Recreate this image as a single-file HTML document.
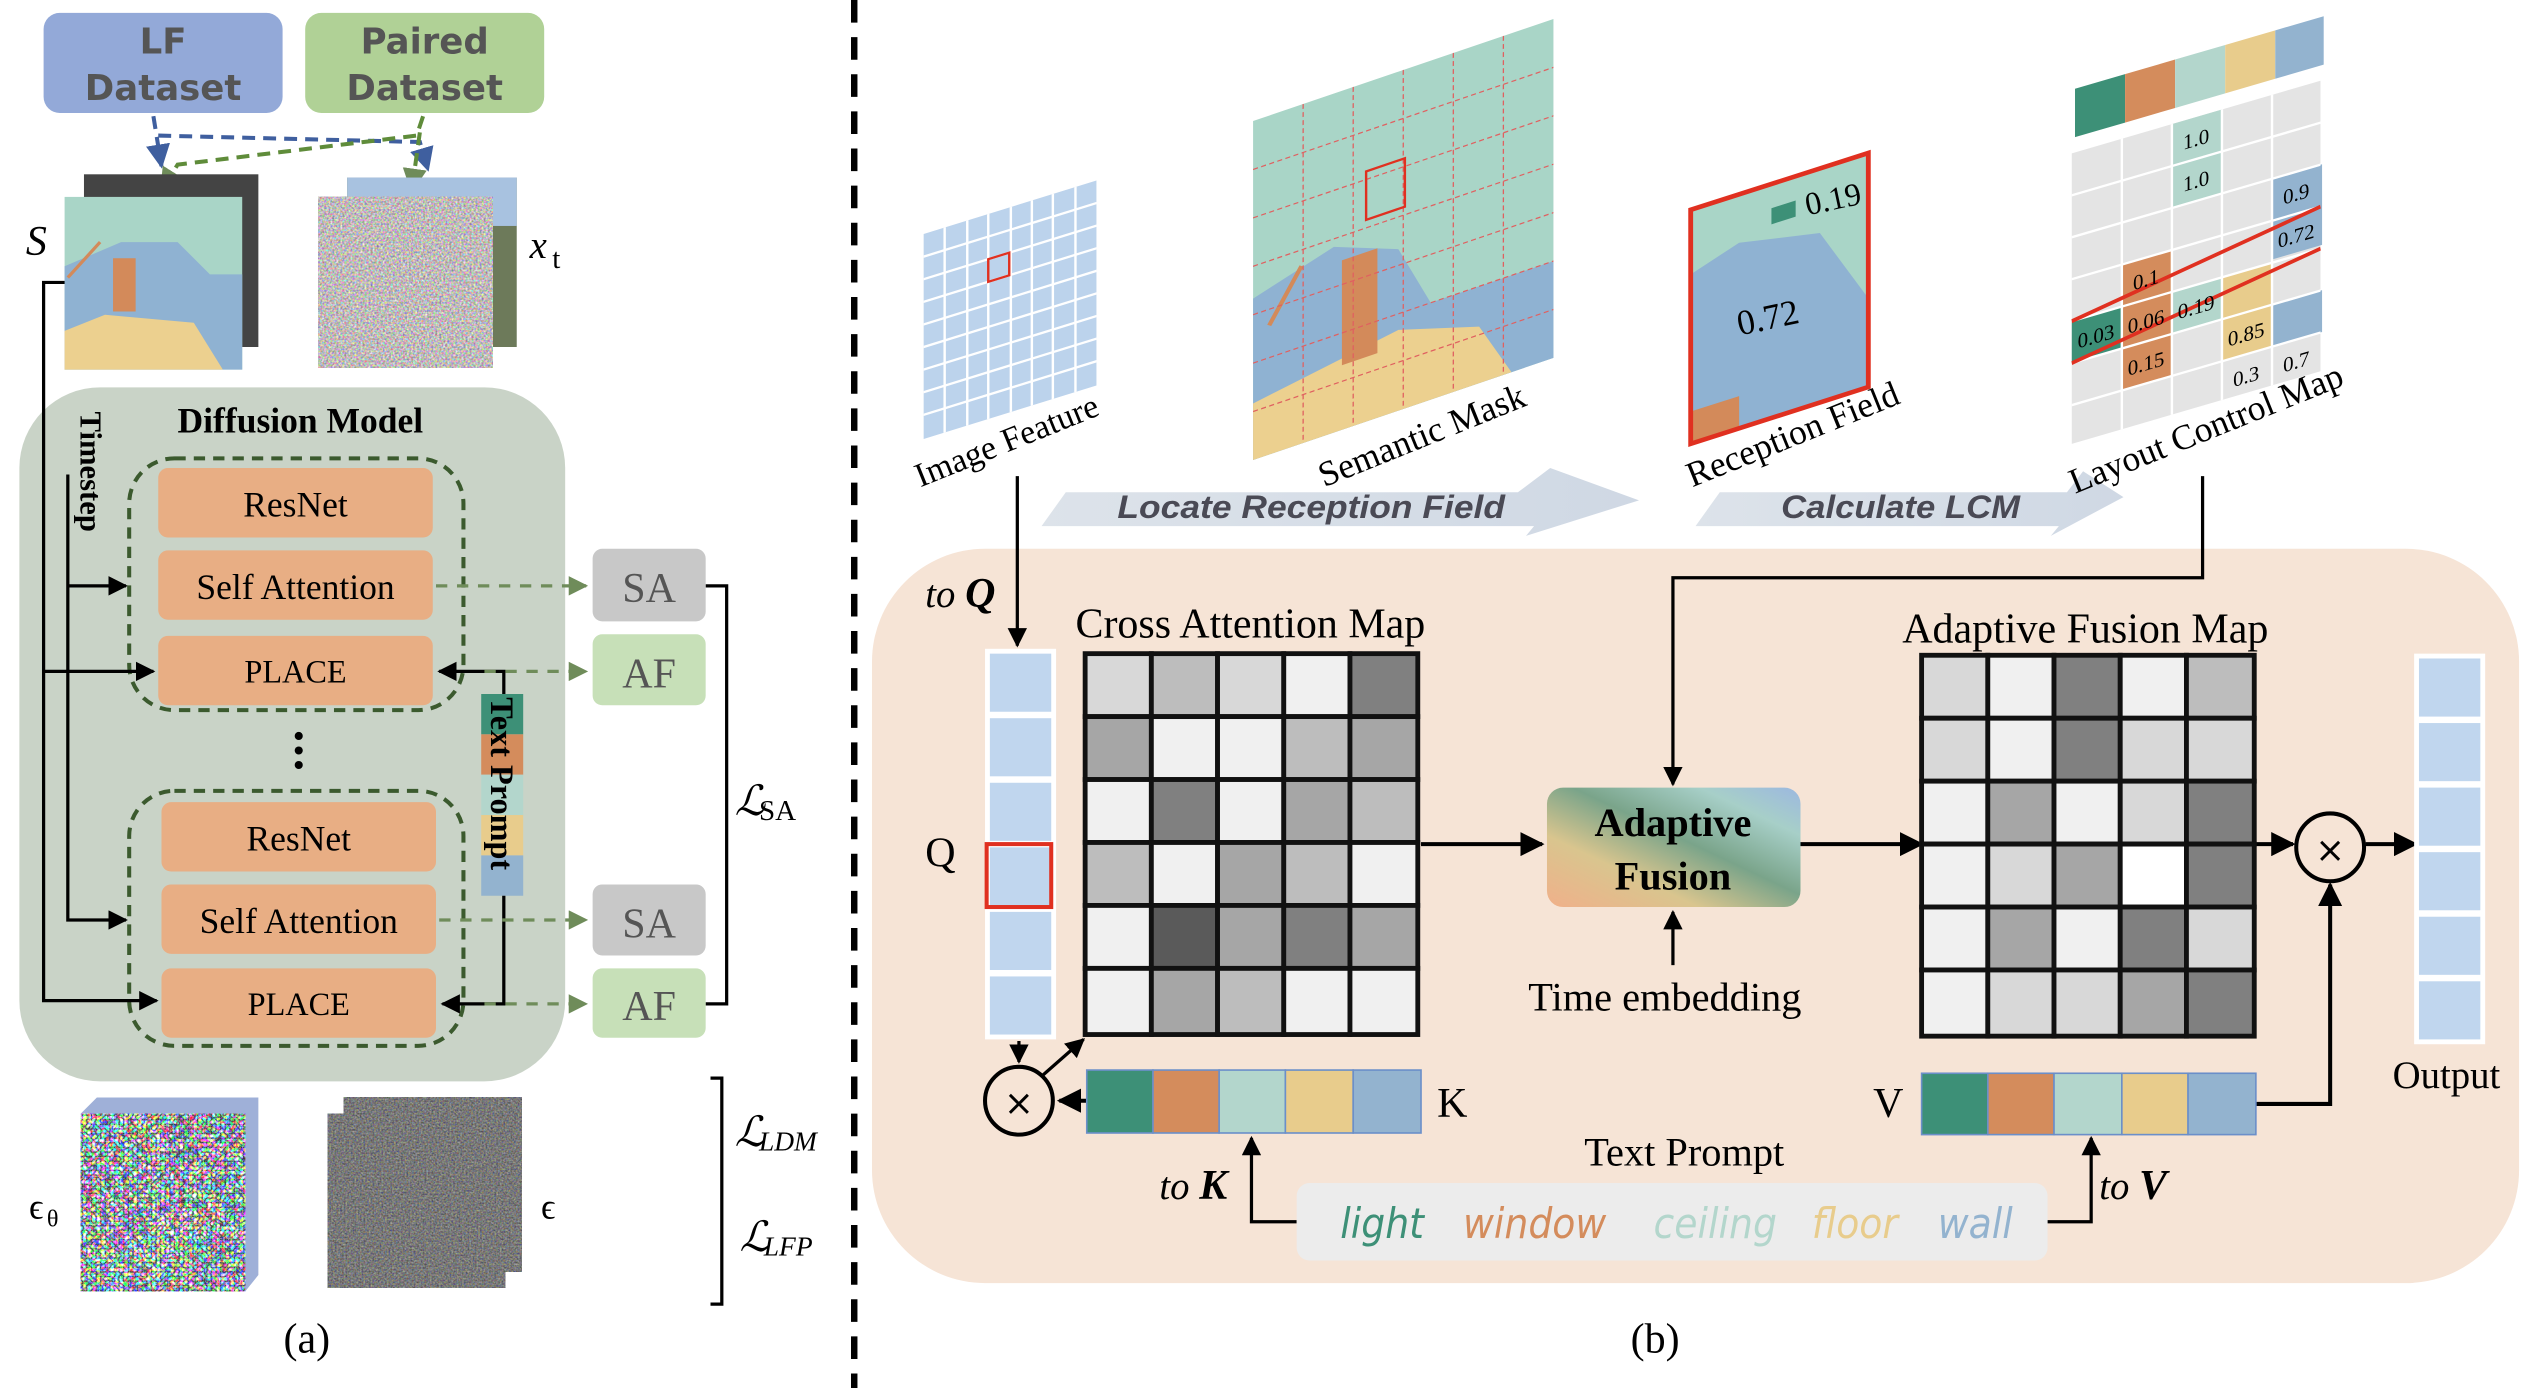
<!DOCTYPE html>
<html><head><meta charset="utf-8"><style>
html,body{margin:0;padding:0;background:#fff;}
svg{display:block;}
</style></head><body>
<svg width="2532" height="1388" viewBox="0 0 1568 860" preserveAspectRatio="none" xmlns="http://www.w3.org/2000/svg" font-family="Liberation Serif, serif">
<defs>
<marker id="ah" viewBox="0 0 10 10" refX="9" refY="5" markerWidth="6" markerHeight="6" orient="auto"><path d="M0,0 L10,5 L0,10 z" fill="#000"/></marker>
<marker id="ahg" viewBox="0 0 10 10" refX="9" refY="5" markerWidth="6" markerHeight="6" orient="auto"><path d="M0,0 L10,5 L0,10 z" fill="#6f8c5a"/></marker>
<marker id="ahb" viewBox="0 0 10 10" refX="9" refY="5" markerWidth="6" markerHeight="6" orient="auto"><path d="M0,0 L10,5 L0,10 z" fill="#3f5f9f"/></marker>
<filter id="noise" x="0" y="0" width="100%" height="100%" color-interpolation-filters="sRGB"><feTurbulence type="fractalNoise" baseFrequency="0.9" numOctaves="2" seed="3"/><feColorMatrix type="matrix" values="0.5 0.2 0 0 0.12  0.2 0.5 0 0 0.12  0 0.2 0.5 0 0.12  0 0 0 0 1"/></filter>
<filter id="noisec" x="0" y="0" width="100%" height="100%" color-interpolation-filters="sRGB"><feTurbulence type="turbulence" baseFrequency="0.35" numOctaves="2" seed="7"/><feColorMatrix type="matrix" values="2.2 0 0 0 0.05  0 2.2 0 0 0.08  0 0 2.2 0 0.1  0 0 0 0 1"/></filter>
<filter id="noisel" x="0" y="0" width="100%" height="100%" color-interpolation-filters="sRGB"><feTurbulence type="fractalNoise" baseFrequency="0.8" numOctaves="2" seed="5"/><feColorMatrix type="matrix" values="0.9 0 0 0 0.3  0 0.9 0 0 0.28  0 0 0.9 0 0.28  0 0 0 0 1"/></filter>
<linearGradient id="afg" x1="0" y1="1" x2="1" y2="0"><stop offset="0" stop-color="#f0b08a"/><stop offset="0.3" stop-color="#d9c58e"/><stop offset="0.55" stop-color="#7aa48a"/><stop offset="0.8" stop-color="#a7cfc8"/><stop offset="1" stop-color="#9cb8e0"/></linearGradient>
<linearGradient id="arr" x1="0" y1="0" x2="1" y2="0"><stop offset="0" stop-color="#dde3ea"/><stop offset="1" stop-color="#cfd8e4"/></linearGradient>
</defs>

<!-- ===== PART A ===== -->
<rect x="27" y="8" width="148" height="62" rx="10" fill="#93a9d8"/>
<text x="101" y="33" text-anchor="middle" font-family="DejaVu Sans, sans-serif" font-weight="bold" font-size="22" fill="#555">LF</text>
<text x="101" y="62" text-anchor="middle" font-family="DejaVu Sans, sans-serif" font-weight="bold" font-size="22" fill="#555">Dataset</text>
<rect x="189" y="8" width="148" height="62" rx="10" fill="#b0d196"/>
<text x="263" y="33" text-anchor="middle" font-family="DejaVu Sans, sans-serif" font-weight="bold" font-size="22" fill="#555">Paired</text>
<text x="263" y="62" text-anchor="middle" font-family="DejaVu Sans, sans-serif" font-weight="bold" font-size="22" fill="#555">Dataset</text>
<path d="M95,72 L100,103" stroke="#3f5f9f" stroke-width="2.5" stroke-dasharray="8,5" fill="none" marker-end="url(#ahb)"/>
<path d="M98,84 L260,88 L265,105" stroke="#3f5f9f" stroke-width="2.5" stroke-dasharray="8,5" fill="none" marker-end="url(#ahb)"/>
<path d="M262,72 L258,84 L110,102 L100,118" stroke="#5f8c3a" stroke-width="2.5" stroke-dasharray="8,5" fill="none" marker-end="url(#ahg)"/>
<path d="M260,82 L255,118" stroke="#5f8c3a" stroke-width="2.5" stroke-dasharray="8,5" fill="none" marker-end="url(#ahg)"/>
<rect x="52" y="108" width="108" height="107" fill="#444"/>
<rect x="40" y="122" width="110" height="107" fill="#a9d5c7"/>
<polygon points="40,165 75,150 110,150 130,170 150,170 150,229 40,229" fill="#8fb2d2"/>
<polygon points="40,205 65,195 120,200 138,229 40,229" fill="#ecd08f"/>
<rect x="70" y="160" width="14" height="33" fill="#d38a5a"/>
<line x1="42" y1="172" x2="62" y2="150" stroke="#d38a5a" stroke-width="2"/>
<text x="16" y="158" font-style="italic" font-size="26">S</text>
<rect x="215" y="110" width="105" height="105" fill="#6d7a5a"/>
<rect x="215" y="110" width="105" height="30" fill="#a8c2e0"/>
<rect x="197" y="122" width="108" height="106" fill="#aaa" filter="url(#noisel)"/>
<text x="328" y="160" font-style="italic" font-size="24">x</text><text x="342" y="166" font-size="18">t</text>
<rect x="12" y="240" width="338" height="430" rx="50" fill="#c9d3c7"/>
<text x="186" y="268" text-anchor="middle" font-weight="bold" font-size="22">Diffusion Model</text>
<text transform="translate(50,255) rotate(90)" font-weight="bold" font-size="19">Timestep</text>
<rect x="80" y="284" width="207" height="156" rx="28" fill="none" stroke="#3b5a2e" stroke-width="2.5" stroke-dasharray="7,5"/>
<rect x="80" y="490" width="207" height="158" rx="28" fill="none" stroke="#3b5a2e" stroke-width="2.5" stroke-dasharray="7,5"/>
<g fill="#e8ae84">
<rect x="98" y="290" width="170" height="43" rx="6"/><rect x="98" y="341" width="170" height="43" rx="6"/><rect x="98" y="394" width="170" height="43" rx="6"/>
<rect x="100" y="497" width="170" height="43" rx="6"/><rect x="100" y="548" width="170" height="43" rx="6"/><rect x="100" y="600" width="170" height="43" rx="6"/>
</g>
<g font-size="22" text-anchor="middle">
<text x="183" y="320">ResNet</text><text x="183" y="371">Self Attention</text><text x="183" y="423" font-size="20">PLACE</text>
<text x="185" y="527">ResNet</text><text x="185" y="578">Self Attention</text><text x="185" y="629" font-size="20">PLACE</text>
</g>
<circle cx="185" cy="456" r="2.5"/><circle cx="185" cy="465" r="2.5"/><circle cx="185" cy="474" r="2.5"/>
<rect x="298" y="430" width="26" height="25" fill="#3d9077"/><rect x="298" y="455" width="26" height="25" fill="#d48c5c"/><rect x="298" y="480" width="26" height="25" fill="#b3d6cc"/><rect x="298" y="505" width="26" height="25" fill="#e8cc8c"/><rect x="298" y="530" width="26" height="25" fill="#93b3cf"/>
<text transform="translate(304,432) rotate(90)" font-weight="bold" font-size="20">Text Prompt</text>
<g stroke="#000" stroke-width="2" fill="none">
<path d="M40,175 L27,175 L27,620 L97,620" marker-end="url(#ah)"/>
<path d="M27,416 L95,416" marker-end="url(#ah)"/>
<path d="M42,294 L42,570 L78,570" marker-end="url(#ah)"/>
<path d="M42,363 L78,363" marker-end="url(#ah)"/>
<path d="M312,430 L312,416 L272,416" marker-end="url(#ah)"/>
<path d="M312,555 L312,622 L274,622" marker-end="url(#ah)"/>
<path d="M437,363 L450,363 L450,622 L437,622"/>
<path d="M440,668 L447,668 L447,808 L440,808"/>
</g>
<g stroke="#6f8c5a" stroke-width="2" stroke-dasharray="7,6" fill="none">
<path d="M270,363 L363,363" marker-end="url(#ahg)"/><path d="M300,416 L363,416" marker-end="url(#ahg)"/>
<path d="M272,570 L363,570" marker-end="url(#ahg)"/><path d="M300,622 L363,622" marker-end="url(#ahg)"/>
</g>
<rect x="367" y="340" width="70" height="45" rx="6" fill="#c8c8c8"/><text x="402" y="373" text-anchor="middle" font-size="26" fill="#555">SA</text>
<rect x="367" y="393" width="70" height="44" rx="6" fill="#c7e0b8"/><text x="402" y="426" text-anchor="middle" font-size="26" fill="#555">AF</text>
<rect x="367" y="548" width="70" height="44" rx="6" fill="#c8c8c8"/><text x="402" y="581" text-anchor="middle" font-size="26" fill="#555">SA</text>
<rect x="367" y="600" width="70" height="43" rx="6" fill="#c7e0b8"/><text x="402" y="632" text-anchor="middle" font-size="26" fill="#555">AF</text>
<text x="455" y="505" font-style="italic" font-size="26">ℒ</text><text x="470" y="508" font-size="18">SA</text>
<text x="455" y="710" font-style="italic" font-size="26">ℒ</text><text x="470" y="713" font-style="italic" font-size="17">LDM</text>
<text x="458" y="775" font-style="italic" font-size="26">ℒ</text><text x="473" y="778" font-style="italic" font-size="17">LFP</text>
<polygon points="50,690 60,680 160,680 160,790 152,800 152,690" fill="#9fb0d8"/>
<rect x="50" y="690" width="102" height="110" fill="#888" filter="url(#noisec)"/>
<rect x="213" y="680" width="110" height="108" fill="#777" filter="url(#noise)"/>
<rect x="203" y="690" width="110" height="108" fill="#777" filter="url(#noise)"/>
<text x="18" y="755" font-size="22">ϵ</text><text x="29" y="760" font-size="15">θ</text>
<text x="335" y="755" font-size="22">ϵ</text>
<text x="190" y="838" text-anchor="middle" font-size="26">(a)</text>

<line x1="529" y1="0" x2="529" y2="860" stroke="#000" stroke-width="4" stroke-dasharray="14,9"/>

<!-- ===== PART B ===== -->
<rect x="540" y="340" width="1020" height="455" rx="70" fill="#f6e4d6"/>
<!-- process arrows (behind labels) -->
<polygon points="660,305 940,305 960,290 1015,310 945,332 950,326 645,326" fill="url(#arr)"/>
<text x="812" y="321" text-anchor="middle" font-family="Liberation Sans, sans-serif" font-style="italic" font-weight="bold" font-size="20" fill="#4a4a55" textLength="240" lengthAdjust="spacingAndGlyphs">Locate Reception Field</text>
<polygon points="1065,305 1280,305 1290,292 1315,308 1270,332 1275,326 1050,326" fill="url(#arr)"/>
<text x="1177" y="321" text-anchor="middle" font-family="Liberation Sans, sans-serif" font-style="italic" font-weight="bold" font-size="20" fill="#4a4a55" textLength="148" lengthAdjust="spacingAndGlyphs">Calculate LCM</text>
<g transform="matrix(1,-0.31,0,1,572,145)">
<rect width="107" height="127" fill="#bcd3ec"/>
<g stroke="#fff" stroke-width="1.5">
<line x1="13" y1="0" x2="13" y2="127"/><line x1="27" y1="0" x2="27" y2="127"/><line x1="40" y1="0" x2="40" y2="127"/><line x1="54" y1="0" x2="54" y2="127"/><line x1="67" y1="0" x2="67" y2="127"/><line x1="80" y1="0" x2="80" y2="127"/><line x1="94" y1="0" x2="94" y2="127"/>
<line x1="0" y1="14" x2="107" y2="14"/><line x1="0" y1="28" x2="107" y2="28"/><line x1="0" y1="42" x2="107" y2="42"/><line x1="0" y1="56" x2="107" y2="56"/><line x1="0" y1="70" x2="107" y2="70"/><line x1="0" y1="84" x2="107" y2="84"/><line x1="0" y1="98" x2="107" y2="98"/><line x1="0" y1="112" x2="107" y2="112"/>
</g>
<rect x="40" y="28" width="13" height="14" fill="none" stroke="#e03020" stroke-width="1.5"/>
</g>
<text transform="translate(570,302) rotate(-22)" font-size="21">Image Feature</text>
<g transform="matrix(1,-0.34,0,1,776,75)">
<rect width="186" height="210" fill="#a9d5c7"/>
<polygon points="0,110 50,95 90,110 110,150 186,150 186,210 0,210" fill="#8fb2d2"/>
<polygon points="0,175 90,160 140,175 160,210 0,210" fill="#ecd08f"/>
<rect x="55" y="105" width="22" height="65" fill="#d38a5a"/>
<line x1="10" y1="130" x2="30" y2="100" stroke="#d38a5a" stroke-width="3"/>
<g stroke="#e06060" stroke-width="0.8" stroke-dasharray="3,2">
<line x1="31" y1="0" x2="31" y2="210"/><line x1="62" y1="0" x2="62" y2="210"/><line x1="93" y1="0" x2="93" y2="210"/><line x1="124" y1="0" x2="124" y2="210"/><line x1="155" y1="0" x2="155" y2="210"/>
<line x1="0" y1="30" x2="186" y2="30"/><line x1="0" y1="60" x2="186" y2="60"/><line x1="0" y1="90" x2="186" y2="90"/><line x1="0" y1="120" x2="186" y2="120"/><line x1="0" y1="150" x2="186" y2="150"/><line x1="0" y1="180" x2="186" y2="180"/>
</g>
<rect x="70" y="55" width="24" height="30" fill="none" stroke="#e03020" stroke-width="1.5"/>
</g>
<text transform="translate(820,302) rotate(-22)" font-size="22">Semantic Mask</text>
<g transform="matrix(1,-0.32,0,1,1047,130)">
<rect width="110" height="145" fill="#8fb2d2"/>
<polygon points="0,0 110,0 110,90 80,40 30,30 0,40" fill="#a9d5c7"/>
<rect x="0" y="125" width="30" height="20" fill="#d38a5a"/>
<rect x="50" y="15" width="15" height="10" fill="#3d9077"/>
<rect width="110" height="145" fill="none" stroke="#e03020" stroke-width="3"/>
</g>
<text x="1118" y="130" font-size="20" transform="rotate(-12,1135,125)">0.19</text>
<text x="1075" y="205" font-size="22" transform="rotate(-12,1090,195)">0.72</text>
<text transform="translate(1048,302) rotate(-22)" font-size="22">Reception Field</text>
<g transform="matrix(1,-0.292,0,1,1285,55)">
<rect x="0" y="0" width="31" height="30" fill="#3d9077"/><rect x="31" y="0" width="31" height="30" fill="#d48c5c"/><rect x="62" y="0" width="31" height="30" fill="#b3d6cc"/><rect x="93" y="0" width="31" height="30" fill="#e8cc8c"/><rect x="124" y="0" width="30" height="30" fill="#93b3cf"/>
</g>
<g transform="matrix(1,-0.292,0,1,1283,95)">
<rect width="154" height="180" fill="#e4e4e4"/>
<rect x="62" y="0" width="31" height="52" fill="#b3d6cc"/>
<rect x="124" y="52" width="31" height="50" fill="#93b3cf"/>
<rect x="31" y="78" width="31" height="78" fill="#d48c5c"/>
<rect x="0" y="104" width="31" height="26" fill="#3d9077"/>
<rect x="62" y="104" width="31" height="26" fill="#b3d6cc"/>
<rect x="93" y="104" width="31" height="52" fill="#e8cc8c"/>
<rect x="124" y="130" width="31" height="26" fill="#93b3cf"/>
<g stroke="#fff" stroke-width="1.5">
<line x1="31" y1="0" x2="31" y2="180"/><line x1="62" y1="0" x2="62" y2="180"/><line x1="93" y1="0" x2="93" y2="180"/><line x1="124" y1="0" x2="124" y2="180"/>
<line x1="0" y1="26" x2="154" y2="26"/><line x1="0" y1="52" x2="154" y2="52"/><line x1="0" y1="78" x2="154" y2="78"/><line x1="0" y1="104" x2="154" y2="104"/><line x1="0" y1="130" x2="154" y2="130"/><line x1="0" y1="156" x2="154" y2="156"/>
</g>
<line x1="0" y1="104" x2="154" y2="78" stroke="#e03020" stroke-width="2.5"/>
<line x1="0" y1="130" x2="154" y2="104" stroke="#e03020" stroke-width="2.5"/>
<g font-size="13" text-anchor="middle">
<text x="77" y="18">1.0</text><text x="77" y="44">1.0</text><text x="139" y="70">0.9</text><text x="139" y="96">0.72</text>
<text x="46" y="96">0.1</text><text x="15" y="122">0.03</text><text x="46" y="122">0.06</text><text x="77" y="122">0.19</text>
<text x="108" y="148">0.85</text><text x="46" y="148">0.15</text><text x="108" y="174">0.3</text><text x="139" y="174">0.7</text>
</g>
</g>
<text transform="translate(1285,306) rotate(-22)" font-size="22">Layout Control Map</text>
<g stroke="#000" stroke-width="2" fill="none">
<path d="M630,295 L630,400" marker-end="url(#ah)"/>
<path d="M1364,295 L1364,358 L1036,358 L1036,486" marker-end="url(#ah)"/>
<path d="M880,523 L955,523" marker-end="url(#ah)" stroke-width="2.5"/>
<path d="M1115,523 L1190,523" marker-end="url(#ah)" stroke-width="2.5"/>
<path d="M1397,523 L1420,523" marker-end="url(#ah)" stroke-width="2.5"/>
<path d="M1465,523 L1496,523" marker-end="url(#ah)" stroke-width="2.5"/>
<path d="M1036,598 L1036,565" marker-end="url(#ah)"/>
<path d="M631,645 L631,658" marker-end="url(#ah)"/>
<path d="M646,666 L671,644" marker-end="url(#ah)"/>
<path d="M673,682 L656,682" marker-end="url(#ah)" stroke-width="2.5"/>
<path d="M1397,684 L1443,684 L1443,548" marker-end="url(#ah)" stroke-width="2.5"/>
<path d="M803,757 L775,757 L775,705" marker-end="url(#ah)"/>
<path d="M1268,757 L1295,757 L1295,705" marker-end="url(#ah)"/>
</g>
<text x="573" y="376" font-style="italic" font-size="24">to <tspan font-weight="bold" font-size="26">Q</tspan></text>
<rect x="610" y="402" width="44" height="242" fill="#fff"/>
<g fill="#c0d6ee"><rect x="613" y="405" width="38" height="36"/><rect x="613" y="445" width="38" height="36"/><rect x="613" y="485" width="38" height="36"/><rect x="613" y="525" width="38" height="36"/><rect x="613" y="565" width="38" height="36"/><rect x="613" y="605" width="38" height="36"/></g>
<rect x="611" y="523" width="40" height="39" fill="none" stroke="#e03020" stroke-width="2.5"/>
<text x="573" y="537" font-size="26">Q</text>
<text x="666" y="395" font-size="26">Cross Attention Map</text>
<g transform="translate(672,405)" stroke="#111" stroke-width="3">
<rect x="0" y="0" width="41" height="39" fill="#d8d8d8"/><rect x="41" y="0" width="41" height="39" fill="#bdbdbd"/><rect x="82" y="0" width="41" height="39" fill="#d8d8d8"/><rect x="123" y="0" width="41" height="39" fill="#f0f0f0"/><rect x="164" y="0" width="42" height="39" fill="#808080"/>
<rect x="0" y="39" width="41" height="39" fill="#a6a6a6"/><rect x="41" y="39" width="41" height="39" fill="#f0f0f0"/><rect x="82" y="39" width="41" height="39" fill="#f0f0f0"/><rect x="123" y="39" width="41" height="39" fill="#bdbdbd"/><rect x="164" y="39" width="42" height="39" fill="#a6a6a6"/>
<rect x="0" y="78" width="41" height="39" fill="#f0f0f0"/><rect x="41" y="78" width="41" height="39" fill="#808080"/><rect x="82" y="78" width="41" height="39" fill="#f0f0f0"/><rect x="123" y="78" width="41" height="39" fill="#a6a6a6"/><rect x="164" y="78" width="42" height="39" fill="#bdbdbd"/>
<rect x="0" y="117" width="41" height="39" fill="#bdbdbd"/><rect x="41" y="117" width="41" height="39" fill="#f0f0f0"/><rect x="82" y="117" width="41" height="39" fill="#a6a6a6"/><rect x="123" y="117" width="41" height="39" fill="#bdbdbd"/><rect x="164" y="117" width="42" height="39" fill="#f0f0f0"/>
<rect x="0" y="156" width="41" height="39" fill="#f0f0f0"/><rect x="41" y="156" width="41" height="39" fill="#5a5a5a"/><rect x="82" y="156" width="41" height="39" fill="#a6a6a6"/><rect x="123" y="156" width="41" height="39" fill="#808080"/><rect x="164" y="156" width="42" height="39" fill="#a6a6a6"/>
<rect x="0" y="195" width="41" height="41" fill="#f0f0f0"/><rect x="41" y="195" width="41" height="41" fill="#a6a6a6"/><rect x="82" y="195" width="41" height="41" fill="#bdbdbd"/><rect x="123" y="195" width="41" height="41" fill="#f0f0f0"/><rect x="164" y="195" width="42" height="41" fill="#f0f0f0"/>
</g>
<rect x="958" y="488" width="157" height="74" rx="10" fill="url(#afg)"/>
<text x="1036" y="518" text-anchor="middle" font-weight="bold" font-size="25">Adaptive</text>
<text x="1036" y="551" text-anchor="middle" font-weight="bold" font-size="25">Fusion</text>
<text x="1031" y="626" text-anchor="middle" font-size="25">Time embedding</text>
<text x="1178" y="398" font-size="26">Adaptive Fusion Map</text>
<g transform="translate(1190,406)" stroke="#111" stroke-width="3">
<rect x="0" y="0" width="41" height="39" fill="#d8d8d8"/><rect x="41" y="0" width="41" height="39" fill="#f0f0f0"/><rect x="82" y="0" width="41" height="39" fill="#808080"/><rect x="123" y="0" width="41" height="39" fill="#f0f0f0"/><rect x="164" y="0" width="42" height="39" fill="#bdbdbd"/>
<rect x="0" y="39" width="41" height="39" fill="#d8d8d8"/><rect x="41" y="39" width="41" height="39" fill="#f0f0f0"/><rect x="82" y="39" width="41" height="39" fill="#808080"/><rect x="123" y="39" width="41" height="39" fill="#d8d8d8"/><rect x="164" y="39" width="42" height="39" fill="#d8d8d8"/>
<rect x="0" y="78" width="41" height="39" fill="#f0f0f0"/><rect x="41" y="78" width="41" height="39" fill="#a6a6a6"/><rect x="82" y="78" width="41" height="39" fill="#f0f0f0"/><rect x="123" y="78" width="41" height="39" fill="#d8d8d8"/><rect x="164" y="78" width="42" height="39" fill="#808080"/>
<rect x="0" y="117" width="41" height="39" fill="#f0f0f0"/><rect x="41" y="117" width="41" height="39" fill="#d8d8d8"/><rect x="82" y="117" width="41" height="39" fill="#a6a6a6"/><rect x="123" y="117" width="41" height="39" fill="#ffffff"/><rect x="164" y="117" width="42" height="39" fill="#808080"/>
<rect x="0" y="156" width="41" height="39" fill="#f0f0f0"/><rect x="41" y="156" width="41" height="39" fill="#a6a6a6"/><rect x="82" y="156" width="41" height="39" fill="#f0f0f0"/><rect x="123" y="156" width="41" height="39" fill="#808080"/><rect x="164" y="156" width="42" height="39" fill="#d8d8d8"/>
<rect x="0" y="195" width="41" height="41" fill="#f0f0f0"/><rect x="41" y="195" width="41" height="41" fill="#d8d8d8"/><rect x="82" y="195" width="41" height="41" fill="#d8d8d8"/><rect x="123" y="195" width="41" height="41" fill="#a6a6a6"/><rect x="164" y="195" width="42" height="41" fill="#808080"/>
</g>
<line x1="1190" y1="523" x2="1397" y2="523" stroke="#111" stroke-width="3"/>
<circle cx="1443" cy="525" r="21" fill="none" stroke="#000" stroke-width="2.5"/><text x="1443" y="534" text-anchor="middle" font-family="DejaVu Sans, sans-serif" font-size="22">×</text>
<circle cx="631" cy="682" r="21" fill="none" stroke="#000" stroke-width="2.5"/><text x="631" y="691" text-anchor="middle" font-family="DejaVu Sans, sans-serif" font-size="22">×</text>
<rect x="1495" y="405" width="44" height="242" fill="#fff"/>
<g fill="#c0d6ee"><rect x="1498" y="408" width="38" height="36"/><rect x="1498" y="448" width="38" height="36"/><rect x="1498" y="488" width="38" height="36"/><rect x="1498" y="528" width="38" height="36"/><rect x="1498" y="568" width="38" height="36"/><rect x="1498" y="608" width="38" height="36"/></g>
<text x="1515" y="674" text-anchor="middle" font-size="24">Output</text>
<g stroke="#6b8fc9" stroke-width="1">
<rect x="673" y="663" width="41" height="39" fill="#3d9077"/><rect x="714" y="663" width="41" height="39" fill="#d48c5c"/><rect x="755" y="663" width="41" height="39" fill="#b3d6cc"/><rect x="796" y="663" width="42" height="39" fill="#e8cc8c"/><rect x="838" y="663" width="42" height="39" fill="#93b3cf"/>
<rect x="1190" y="665" width="41" height="38" fill="#3d9077"/><rect x="1231" y="665" width="41" height="38" fill="#d48c5c"/><rect x="1272" y="665" width="42" height="38" fill="#b3d6cc"/><rect x="1314" y="665" width="41" height="38" fill="#e8cc8c"/><rect x="1355" y="665" width="42" height="38" fill="#93b3cf"/>
</g>
<text x="890" y="692" font-size="26">K</text>
<text x="1160" y="692" font-size="26">V</text>
<text x="1043" y="722" text-anchor="middle" font-size="25">Text Prompt</text>
<text x="718" y="743" font-style="italic" font-size="24">to <tspan font-weight="bold" font-size="26">K</tspan></text>
<text x="1300" y="743" font-style="italic" font-size="24">to <tspan font-weight="bold" font-size="26">V</tspan></text>
<rect x="803" y="733" width="465" height="48" rx="8" fill="#ececec"/>
<g font-family="DejaVu Sans Condensed, DejaVu Sans, sans-serif" font-size="26" font-style="italic">
<text x="830" y="767" fill="#3d9077">light</text>
<text x="906" y="767" fill="#d48c5c">window</text>
<text x="1024" y="767" fill="#b3d6cc">ceiling</text>
<text x="1122" y="767" fill="#e8cc8c">floor</text>
<text x="1200" y="767" fill="#93b3cf">wall</text>
</g>
<text x="1025" y="838" text-anchor="middle" font-size="26">(b)</text>
</svg>
</body></html>
